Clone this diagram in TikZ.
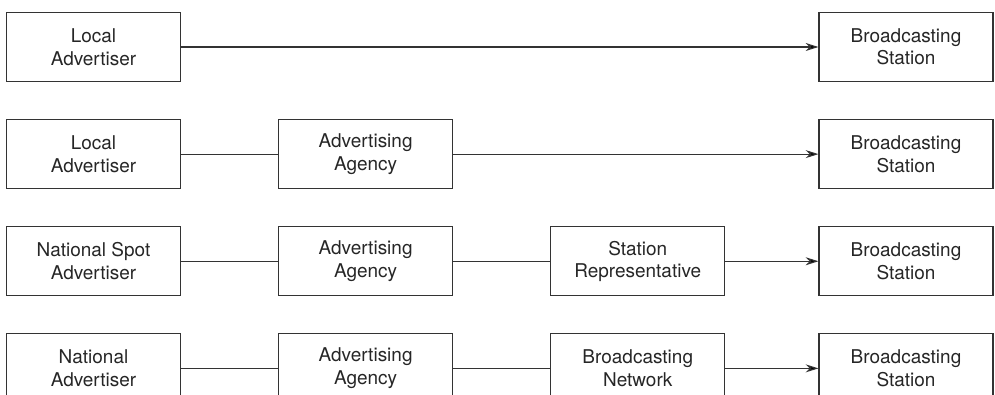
\documentclass[tikz,border=0pt]{standalone}
\usepackage{fontspec}
\setmainfont{TeX Gyre Heros}
\usetikzlibrary{positioning, arrows.meta}

\begin{document}
\begin{tikzpicture}[>={Stealth[length=0.32cm, width=0.2cm]}, semithick, node distance=0.925cm and 2.425cm]
  % Styles
  \tikzstyle{every node}=[text=black!85, font=\fontsize{13.5}{16}\selectfont]
  \tikzstyle{party}=[draw=black!80, thick, minimum width=4.35cm, minimum height=1.725cm, align=center, inner sep=0pt]
  \tikzset{link/.style={draw=black!80, thick}}

  \useasboundingbox (0,0) rectangle (24.875,-9.875);

  % --- Row 1 ---
  \node[party] (LocalAdvA) at (2.3375,-1.175) {Local\\Advertiser};
  \node[party] (StationA) at (22.65,-1.175) {Broadcasting\\Station};

  % --- Row 2 ---
  \node[party] (LocalAdvB) [below=of LocalAdvA] {Local\\Advertiser};
  \node[party] (AgencyB) [right=of LocalAdvB] {Advertising\\Agency};
  \node[party] (StationB) [below=of StationA] {Broadcasting\\Station};

  % --- Row 3 ---
  \node[party] (SpotAdvC) [below=of LocalAdvB] {National Spot\\Advertiser};
  \node[party] (AgencyC) [right=of SpotAdvC] {Advertising\\Agency};
  \node[party] (RepC) [right=of AgencyC] {Station\\Representative};
  \node[party] (StationC) [below=of StationB] {Broadcasting\\Station};

  % --- Row 4 ---
  \node[party] (NatAdvD) [below=of SpotAdvC] {National\\Advertiser};
  \node[party] (AgencyD) [right=of NatAdvD] {Advertising\\Agency};
  \node[party] (NetworkD) [right=of AgencyD] {Broadcasting\\Network};
  \node[party] (StationD) [below=of StationC] {Broadcasting\\Station};

  % --- Connections ---
  \path[link]
    (LocalAdvA) edge [->] (StationA)
    (LocalAdvB) edge (AgencyB)
    (AgencyB) edge [->] (StationB)
    (SpotAdvC) edge (AgencyC)
    (AgencyC) edge (RepC)
    (RepC) edge [->] (StationC)
    (NatAdvD) edge (AgencyD)
    (AgencyD) edge (NetworkD)
    (NetworkD) edge [->] (StationD);

\end{tikzpicture}
\end{document}
